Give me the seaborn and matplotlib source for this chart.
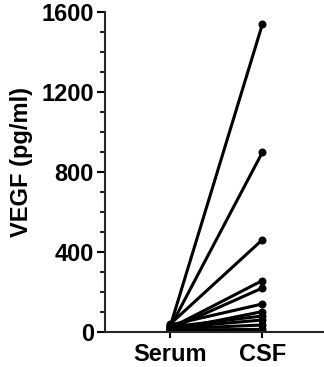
import matplotlib
matplotlib.use("Agg")
import matplotlib.pyplot as plt
import numpy as np
import pandas as pd
import seaborn as sns
from matplotlib.ticker import MultipleLocator

# paired measurements, one line per subject
groups = ["Serum", "CSF"]
serum = [30, 25, 40, 20, 15, 35, 10, 25, 20, 15, 10, 5]
csf = [1538, 898, 461, 257, 220, 140, 102, 80, 60, 35, 13, 2]

rows = []
for i, (s, c) in enumerate(zip(serum, csf)):
    rows.append({"subject": i, "group": groups[0], "vegf": s})
    rows.append({"subject": i, "group": groups[1], "vegf": c})
df = pd.DataFrame(rows)

sns.set_style("ticks")
plt.rcParams["font.family"] = ["Liberation Sans", "DejaVu Sans"]
plt.rcParams["font.weight"] = "bold"

fig = plt.figure(figsize=(3.24, 3.67), dpi=100)
ax = fig.add_axes([0.324, 0.0954, 0.676, 0.872])

sns.lineplot(
    data=df, x="group", y="vegf", units="subject", estimator=None,
    color="black", linewidth=2.2, marker="o", markersize=5,
    markeredgecolor="black", ax=ax, sort=False,
)

ax.set_xlim(-0.71, 1.67)
ax.set_ylim(0, 1600)
ax.yaxis.set_major_locator(MultipleLocator(400))
ax.yaxis.set_minor_locator(MultipleLocator(100))
ax.set_xlabel("")
ax.set_ylabel("VEGF (pg/ml)", fontsize=17, fontweight="bold", color="black")
ax.yaxis.set_label_coords(-0.33, 0.53)

ax.tick_params(axis="both", labelsize=17, width=1.5, length=6, colors="black")
ax.tick_params(axis="y", which="minor", width=1.5, length=3.5)
ax.tick_params(axis="y", pad=2)
ax.tick_params(axis="x", length=4, pad=4)
for lbl in ax.get_xticklabels() + ax.get_yticklabels():
    lbl.set_fontweight("bold")

sns.despine(ax=ax)
ax.spines["left"].set_linewidth(1.5)
ax.spines["bottom"].set_linewidth(1.5)

fig.savefig("out.png", dpi=100)
